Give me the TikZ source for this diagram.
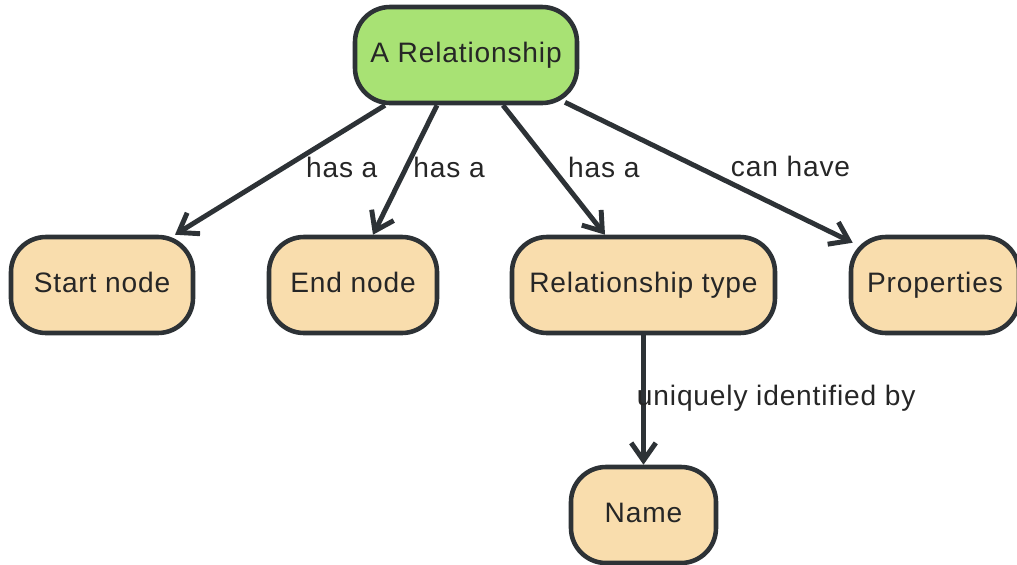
\documentclass[tikz,border=0pt]{standalone}
\usepackage{fontspec}
\setmainfont{Liberation Sans}[LetterSpace=3]
\usepackage{tikz}
\usetikzlibrary{arrows.meta}
\usetikzlibrary{positioning}

\definecolor{relgreen}{HTML}{A8E274}
\definecolor{boxtan}{HTML}{F9DDAD}
\definecolor{inkgray}{HTML}{2D3236}

\begin{document}
\begin{tikzpicture}[font=\fontsize{16}{19}\selectfont, >={Straight Barb[length=10pt,width=14pt]}]
  \tikzstyle{box}=[rectangle, rounded corners=0.7cm, fill=boxtan, draw=inkgray, line width=2.6pt, text=black!85, text centered, text height=12pt, text depth=4pt, minimum height=1.92cm]
  \tikzstyle{rbox}=[box, fill=relgreen]
  \tikzstyle{link}=[->, draw=inkgray, line width=2.8pt]
  \tikzstyle{lbl}=[anchor=west, inner sep=0pt, text=black!85]
  \useasboundingbox (0,0) rectangle (20.34,-11.28);

  \node (rel) [rbox, minimum width=4.44cm] at (9.32,-1.10) {A Relationship};
  \node (startnode) [box, minimum width=3.64cm] at (2.04,-5.70) {Start node};
  \node (endnode) [box, minimum width=3.36cm] at (7.06,-5.70) {End node};
  \node (reltype) [box, minimum width=5.26cm] at (12.87,-5.70) {Relationship type};
  \node (props) [box, minimum width=3.36cm] at (18.70,-5.70) {Properties};
  \node (name) [box, minimum width=2.90cm] at (12.87,-10.30) {Name};

  \draw[link] ([xshift=-1.62cm]rel.south) -- node[lbl, pos=0.478, xshift=0.38cm]{has a} ([xshift=1.46cm]startnode.north);
  \draw[link] ([xshift=-0.58cm]rel.south) -- node[lbl, pos=0.478, xshift=0.09cm]{has a} ([xshift=0.40cm]endnode.north);
  \draw[link] ([xshift=0.74cm]rel.south) -- node[lbl, pos=0.478, xshift=0.28cm]{has a} ([xshift=-0.77cm]reltype.north);
  \draw[link] ([shift={(1.98cm,0.06cm)}]rel.south) -- node[lbl, pos=0.457, xshift=0.64cm]{can have} ([shift={(0.08cm,-0.16cm)}]props.north west);
  \draw[link] (reltype) -- node[lbl, pos=0.489, xshift=-0.18cm]{uniquely identified by} (name);
\end{tikzpicture}
\end{document}
